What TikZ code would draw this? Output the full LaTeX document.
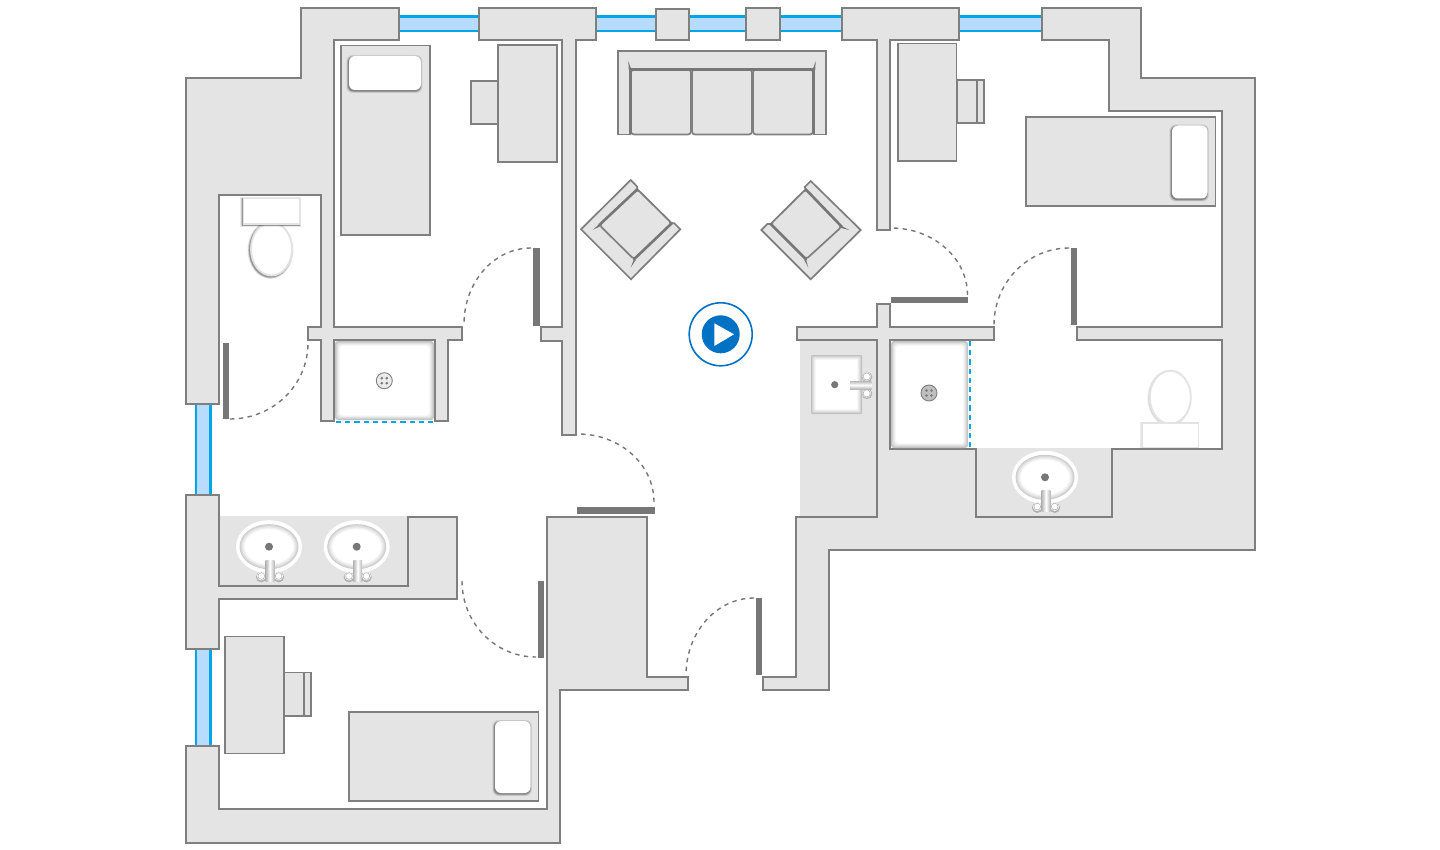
\documentclass[tikz,border=0pt]{standalone}
\definecolor{wallf}{HTML}{E4E4E4}
\definecolor{walld}{HTML}{7F7F7F}
\definecolor{doord}{HTML}{777777}
\definecolor{winf}{HTML}{B8DCFF}
\definecolor{wind}{HTML}{00A6E8}
\definecolor{playc}{HTML}{0072C6}
\definecolor{ringc}{HTML}{E3E3E3}
\tikzset{
  wall/.style={fill=wallf,draw=walld,line width=1.1pt,line join=miter},
  furn/.style={fill=wallf,draw=walld,line width=0.85pt},
  thickedge/.style={draw=doord,line width=1.3pt,line cap=round},
  swing/.style={draw=doord,line width=0.7pt,dash pattern=on 2.2pt off 2.2pt},
  glass/.style={draw=wind,line width=1pt,dash pattern=on 2.6pt off 2pt},
}
% soft shadow (left+below) under a white shape
\newcommand{\softrect}[5]{%
  \foreach \dd/\oo in {2/0.08,1.3/0.14,0.6/0.25}{%
    \fill[black,opacity=\oo,rounded corners=#5] ({#1-\dd-0.6},{#2-\dd+1}) rectangle ({#3+\dd-0.6},{#4+\dd+1});}%
  \fill[white,rounded corners=#5] (#1,#2) rectangle (#3,#4);}
% inner glow of a recessed rectangle
\newcommand{\glowrect}[5]{%
  \foreach \ii/\cc in {0/76,1/82,2/88,3/93,4/97,5/100}{%
    \fill[white!\cc!black,rounded corners=#5] ({#1+\ii},{#2+\ii}) rectangle ({#3-\ii},{#4-\ii});}}
\newcommand{\doorarc}[6]{%
  \draw[swing] (#1,#2) .. controls ({#1+0.5523*(#5-#1)},{#2+0.5523*(#6-#2)}) and ({#3+0.5523*(#5-#3)},{#4+0.5523*(#6-#4)}) .. (#3,#4);}
\newcommand{\drainmark}[3]{%
  \fill[#3] (#1,#2) circle [radius=8];
  \draw[walld,line width=0.45pt] (#1,#2) circle [radius=8];
  \foreach \sx in {-2.5,2.5}{\foreach \sy in {-2.5,2.5}{\fill[doord] ({#1+\sx},{#2+\sy}) circle [radius=1.4];}}}
\newcommand{\ovalsink}[2]{%
  \fill[white] (#1,#2) ellipse [x radius=33,y radius=26.5];
  \foreach \dd/\cc in {0/80,1/85,2/89,3/93,4/96,5/100}{%
    \fill[white!\cc!black] (#1,#2) ellipse [x radius={29.5-\dd},y radius={22.5-\dd}];}
  \fill[doord] (#1,#2) circle [radius=4];
  \foreach \sx in {-8.7,8.7}{%
    \fill[black,opacity=0.22] ({#1+1+\sx},{#2+30.3}) circle [radius=5.4];
    \fill[white] ({#1+1+\sx},{#2+29.3}) circle [radius=4.4];
    \draw[black!30,line width=0.3pt] ({#1+1+\sx},{#2+29.3}) circle [radius=3.4];}
  \shade[left color=black!28,right color=black!28,middle color=white] ({#1+1-4.3},{#2+13.3}) rectangle ({#1+1+4.3},{#2+34.5});}
\newcommand{\deskset}[9]{%
  \draw[furn] (#1,#2) rectangle (#3,#4);
  \draw[furn] (#5,#6) rectangle (#7,#8);
  \draw[furn] (#7,#6) rectangle (#9,#8);}
\begin{document}
\begin{tikzpicture}[x=0.5pt,y=-0.5pt]
\useasboundingbox (0,0) rectangle (1440,850);
\fill[white] (0,0) rectangle (1440,850);

% windows
\foreach \xa/\xb in {399/479,596/656,689/746,780/842,959/1042}{%
  \fill[winf] (\xa,16) rectangle (\xb,31);
  \draw[wind,line width=1.1pt] (\xa,16.5) -- (\xb,16.5) (\xa,31) -- (\xb,31);}
\foreach \ya/\yb in {404/495,649/746}{%
  \fill[winf] (195,\ya) rectangle (211,\yb);
  \draw[wind,line width=1.1pt] (196,\ya) -- (196,\yb) (210.5,\ya) -- (210.5,\yb);}

% borderless counter surfaces
\fill[wallf] (219,516) rectangle (408,586);
\fill[wallf] (800,340) rectangle (877,517);
\fill[wallf] (976,449) rectangle (1112,517);

% walls
\draw[wall] (186,78) -- (301,78) -- (301,8) -- (399,8) -- (399,40) -- (334,40) -- (334,327) -- (462,327) -- (462,340) -- (448,340) -- (448,421) -- (435,421) -- (435,340) -- (334,340) -- (334,421) -- (321,421) -- (321,340) -- (308,340) -- (308,327) -- (321,327) -- (321,195) -- (219,195) -- (219,404) -- (186,404) -- cycle;
\draw[wall] (186,495) -- (219,495) -- (219,586) -- (408,586) -- (408,517) -- (457,517) -- (457,599) -- (219,599) -- (219,649) -- (186,649) -- cycle;
\draw[wall] (186,746) -- (219,746) -- (219,809) -- (547,809) -- (547,517) -- (647,517) -- (647,677) -- (688,677) -- (688,690) -- (560,690) -- (560,843) -- (186,843) -- cycle;
\draw[wall] (763,677) -- (796,677) -- (796,517) -- (877,517) -- (877,340) -- (797,340) -- (797,327) -- (877,327) -- (877,304) -- (890,304) -- (890,327) -- (994,327) -- (994,340) -- (890,340) -- (890,449) -- (976,449) -- (976,517) -- (1112,517) -- (1112,449) -- (1222,449) -- (1222,340) -- (1077,340) -- (1077,327) -- (1222,327) -- (1222,111) -- (1109,111) -- (1109,40) -- (1042,40) -- (1042,8) -- (1141,8) -- (1141,78) -- (1255,78) -- (1255,550) -- (829,550) -- (829,690) -- (763,690) -- cycle;
\draw[wall] (479,8) -- (596,8) -- (596,40) -- (576,40) -- (576,435) -- (562,435) -- (562,341) -- (541,341) -- (541,327) -- (562,327) -- (562,40) -- (479,40) -- cycle;
\draw[wall] (842,8) -- (959,8) -- (959,40) -- (890,40) -- (890,230) -- (877,230) -- (877,40) -- (842,40) -- cycle;
\draw[wall] (656,9) rectangle (689,40);
\draw[wall] (746,8) rectangle (780,40);

\fill[wallf] (977,448) rectangle (1111,450);

% showers
\glowrect{335}{341}{434}{420}{1.5pt}
\draw[glass] (336,421.5) -- (435,421.5);
\drainmark{384.3}{380.7}{black!8}
\glowrect{891}{341}{968}{448}{1.5pt}
\draw[glass] (970,341) -- (970,449);
\drainmark{929}{393}{black!25}

% square sink
\glowrect{811}{355}{862}{414}{0.5pt}
\fill[doord] (834.7,384.7) circle [radius=3.6];
\foreach \sy in {376.5,393.3}{%
  \fill[black,opacity=0.22] (867,{\sy+0.5}) circle [radius=5.3];
  \fill[white] (866.7,\sy) circle [radius=4.4];
  \draw[black!30,line width=0.3pt] (866.7,\sy) circle [radius=3.6];}
\shade[top color=black!28,bottom color=black!28,middle color=white] (850,381) rectangle (871.5,389);

% oval sinks
\ovalsink{269}{546.7}
\ovalsink{356.7}{546.7}
\ovalsink{1045}{477.3}

% left toilet
\foreach \dd/\oo in {2/0.08,1.3/0.14,0.6/0.25}{%
  \fill[black,opacity=\oo] (270.5,250) ellipse [x radius={21+\dd},y radius={27+\dd}];}
\fill[white] (271.5,249) ellipse [x radius=21,y radius=27];
\draw[ringc,line width=0.9pt] (271.5,249) ellipse [x radius=20.5,y radius=26.5];
\softrect{243}{198}{300}{224}{0pt}
\draw[ringc,line width=0.6pt] (243.5,198.5) rectangle (300,224);

% right toilet
\foreach \dd/\oo in {1.2/0.05,0.5/0.1}{%
  \fill[black,opacity=\oo] (1169.5,398) ellipse [x radius={21+\dd},y radius={27+\dd}];}
\fill[white] (1170.3,397.3) ellipse [x radius=21,y radius=27];
\draw[ringc,line width=0.9pt] (1170.3,397.3) ellipse [x radius=20.5,y radius=26.5];
\fill[black,opacity=0.08] (1140,421.5) rectangle (1199,448);
\fill[white] (1141.5,422.5) rectangle (1199,447.5);
\draw[ringc,line width=0.9pt] (1142,423) rectangle (1198.5,447.5);

% beds and pillows
\draw[furn] (341,45.5) rectangle (430,235);
\softrect{349}{56}{421}{90}{3pt}
\draw[furn] (1026,117) rectangle (1215.5,206);
\softrect{1172}{125.5}{1207.5}{198.5}{3pt}
\draw[furn] (349,712) rectangle (538.5,801);
\softrect{495}{721}{530.5}{793}{3pt}

% desks with chairs
\deskset{498}{45}{557}{162}{477.5}{81}{498}{124}{471}
\deskset{898}{43.5}{956.5}{161}{957}{80}{977}{123}{984}
\deskset{225}{636.5}{284}{753.5}{284}{672.5}{304}{716}{311}

% sofa
\draw[furn] (618,51) -- (826,51) -- (826,134.5) -- (814,134.5) -- (814,69) -- (630,69) -- (630,134.5) -- (618,134.5) -- cycle;
\foreach \xa/\xb in {631/691,692/752,753/813}{%
  \draw[furn,rounded corners=1.5pt] (\xa,69.5) rectangle (\xb,134.5);}
\draw[thickedge] (631,69.5) -- (813,69.5);
\draw[thickedge] (630.5,70) -- (630.5,133) (813.5,70) -- (813.5,133);
\fill[doord] (628.3,61) -- (631.5,70) -- (628.8,70) -- cycle;
\fill[doord] (815.7,61) -- (812.5,70) -- (815.2,70) -- cycle;

% left armchair
\draw[furn] (581,229.3) -- (630.7,180) -- (637,186.5) -- (637.3,189.3) -- (671.7,223.3) -- (674.3,223.3) -- (680.3,229.3) -- (631,279.3) -- cycle;
\draw[furn,rounded corners=1.5pt] (637.3,189.3) -- (671.7,223.3) -- (634,259.3) -- (599.3,225) -- cycle;
\draw[thickedge] (599.3,225) -- (637.3,189.3) (634,259.3) -- (671.7,223.3);
\fill[doord] (592.7,230) -- (599.3,224) -- (599.8,226.5) -- cycle;
\fill[doord] (630.7,267.7) -- (634,259) -- (635.8,260) -- cycle;

% right armchair
\draw[furn] (761.3,230) -- (810.7,279.3) -- (860.7,230) -- (810.7,181) -- (804.7,187) -- (805.7,189.3) -- (770.7,224) -- (767.3,224) -- cycle;
\draw[furn,rounded corners=1.5pt] (805.7,189.3) -- (841.7,226.7) -- (806,259.3) -- (770.7,224) -- cycle;
\draw[thickedge] (805.7,189.3) -- (841.7,226.7) (770.7,224) -- (806,259.3);
\fill[doord] (849.3,230) -- (841.7,226) -- (841,228) -- cycle;
\fill[doord] (808.3,267.7) -- (806,259) -- (804.3,260) -- cycle;

% doors
\fill[doord] (533,248) rectangle (539.5,325.5);
\doorarc{531}{248}{464}{324}{464}{248}
\fill[doord] (222.5,342.5) rectangle (228.7,419);
\doorarc{230}{419}{308}{343}{308}{419}
\fill[doord] (537.5,580.5) rectangle (543.7,657.5);
\doorarc{462}{581}{536}{657}{462}{657}
\fill[doord] (577,507) rectangle (654.5,513.7);
\doorarc{654}{502}{578}{434}{654}{434}
\fill[doord] (755.7,598) rectangle (761.7,675);
\doorarc{754}{598}{686}{675}{686}{598}
\fill[doord] (890.7,297) rectangle (967.7,303.5);
\doorarc{967.5}{295}{891}{228}{967.5}{228}
\fill[doord] (1070.7,248) rectangle (1077,325);
\doorarc{1069}{248}{994}{325}{994}{248}

% play button
\draw[playc,line width=0.8pt] (720.7,334.3) circle [radius=31.5];
\fill[playc] (720.7,334.3) circle [radius=19];
\fill[white] (714.3,323.3) -- (734,334.3) -- (714.3,346) -- cycle;
\end{tikzpicture}
\end{document}
